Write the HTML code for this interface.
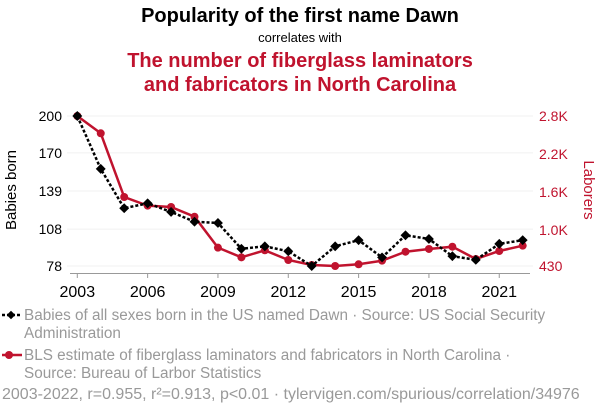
<!DOCTYPE html>
<html><head><meta charset="utf-8"><style>
body{margin:0;background:#fff;width:600px;height:414px;overflow:hidden;font-family:"Liberation Sans",sans-serif}
</style></head><body>
<svg id="chart" width="600" height="414" xmlns="http://www.w3.org/2000/svg" font-family="Liberation Sans, sans-serif">
<text x="300" y="22" text-anchor="middle" font-size="20" font-weight="bold" fill="#000">Popularity of the first name Dawn</text>
<text x="300" y="42" text-anchor="middle" font-size="13" fill="#000">correlates with</text>
<text x="300" y="67" text-anchor="middle" font-size="20" font-weight="bold" fill="#c0132e">The number of fiberglass laminators</text>
<text x="300" y="91" text-anchor="middle" font-size="20" font-weight="bold" fill="#c0132e">and fabricators in North Carolina</text>
<g id="grid"></g><g id="axes"></g><g id="series"></g>
<text transform="translate(16,190) rotate(-90)" text-anchor="middle" font-size="15" fill="#000">Babies born</text>
<text transform="translate(584,190) rotate(90)" text-anchor="middle" font-size="15" fill="#c0132e">Laborers</text>
<g>
<line x1="2" y1="315" x2="22" y2="315" stroke="#000" stroke-width="2.5" stroke-dasharray="3,2"/>
<rect x="8" y="312" width="6" height="6" fill="#000" transform="rotate(45 11 315)"/>
<text x="24" y="320" font-size="15.3" fill="#999">Babies of all sexes born in the US named Dawn · Source: US Social Security</text>
<text x="24" y="338" font-size="15.3" fill="#999">Administration</text></g>
<g>
<line x1="2" y1="355" x2="22" y2="355" stroke="#c0132e" stroke-width="2.5"/>
<circle cx="9" cy="355" r="4" fill="#c0132e"/>
<text x="24" y="360" font-size="15.3" fill="#999">BLS estimate of fiberglass laminators and fabricators in North Carolina ·</text>
<text x="24" y="378" font-size="15.3" fill="#999">Source: Bureau of Larbor Statistics</text></g>
<text x="2" y="399" font-size="16" fill="#999">2003-2022, r=0.955, r²=0.913, p&lt;0.01 · tylervigen.com/spurious/correlation/34976</text>
</svg>
<script>
const years=[2003,2004,2005,2006,2007,2008,2009,2010,2011,2012,2013,2014,2015,2016,2017,2018,2019,2020,2021,2022];
const babies=[200,157,125,129,122,114,113,92,94,90,78,94,99,85,103,100,86,83,96,99];
const laborers=[2800,2527,1520,1383,1362,1209,720,567,678,525,446,430,457,514,656,699,735,541,667,751];
const leftTicks=[78,108,139,170,200];
const rightTicks=[430,1000,1600,2200,2800];
const rightTickLabels=["430","1.0K","1.6K","2.2K","2.8K"];
const xTicks=[2003,2006,2009,2012,2015,2018,2021];
const NS="http://www.w3.org/2000/svg";
const x=y=>77.3+(y-2003)*(445.4/19);
const yl=v=>266-(v-78)*(150/122);
const yr=v=>266-(v-430)*(150/2370);
function mk(tag,attrs,parent){const e=document.createElementNS(NS,tag);for(const k in attrs)e.setAttribute(k,attrs[k]);parent.appendChild(e);return e;}
const grid=document.getElementById('grid'),axes=document.getElementById('axes'),ser=document.getElementById('series');
leftTicks.forEach(v=>{
 const g=mk('line',{x1:67,x2:533,y1:yl(v),y2:yl(v),stroke:'#f0f0f0','stroke-width':1},grid);
 
 
 const t=mk('text',{x:62,y:yl(v)+5,'text-anchor':'end','font-size':14,fill:'#000'},axes);t.textContent=v;
 
 
});
rightTicks.forEach((v,i)=>{
 const t=mk('text',{x:539,y:yr(v)+5,'font-size':14,fill:'#c0132e'},axes);t.textContent=rightTickLabels[i];
 
 
});
const xa=mk('line',{x1:70,x2:530,y1:273.5,y2:273.5,stroke:'#999','stroke-width':1},axes);


xTicks.forEach(v=>{
 mk('line',{x1:x(v),x2:x(v),y1:273.5,y2:278,stroke:'#999'},axes);
 const t=mk('text',{x:x(v),y:297,'text-anchor':'middle','font-size':16,fill:'#000'},axes);t.textContent=v;
 
 
});
const rl=mk('polyline',{points:years.map((y,i)=>x(y)+','+yr(laborers[i])).join(' '),fill:'none',stroke:'#c0132e','stroke-width':2.5},ser);


years.forEach((y,i)=>{const c=mk('circle',{cx:x(y),cy:yr(laborers[i]),r:4,fill:'#c0132e'},ser);
 
 });
const bl=mk('polyline',{points:years.map((y,i)=>x(y)+','+yl(babies[i])).join(' '),fill:'none',stroke:'#000','stroke-width':2.5,'stroke-dasharray':'3,2'},ser);


years.forEach((y,i)=>{const cx=x(y),cy=yl(babies[i]);const r=mk('rect',{x:cx-3.5,y:cy-3.5,width:7,height:7,fill:'#000',transform:`rotate(45 ${cx} ${cy})`},ser);
 
 });
</script>
</body></html>
